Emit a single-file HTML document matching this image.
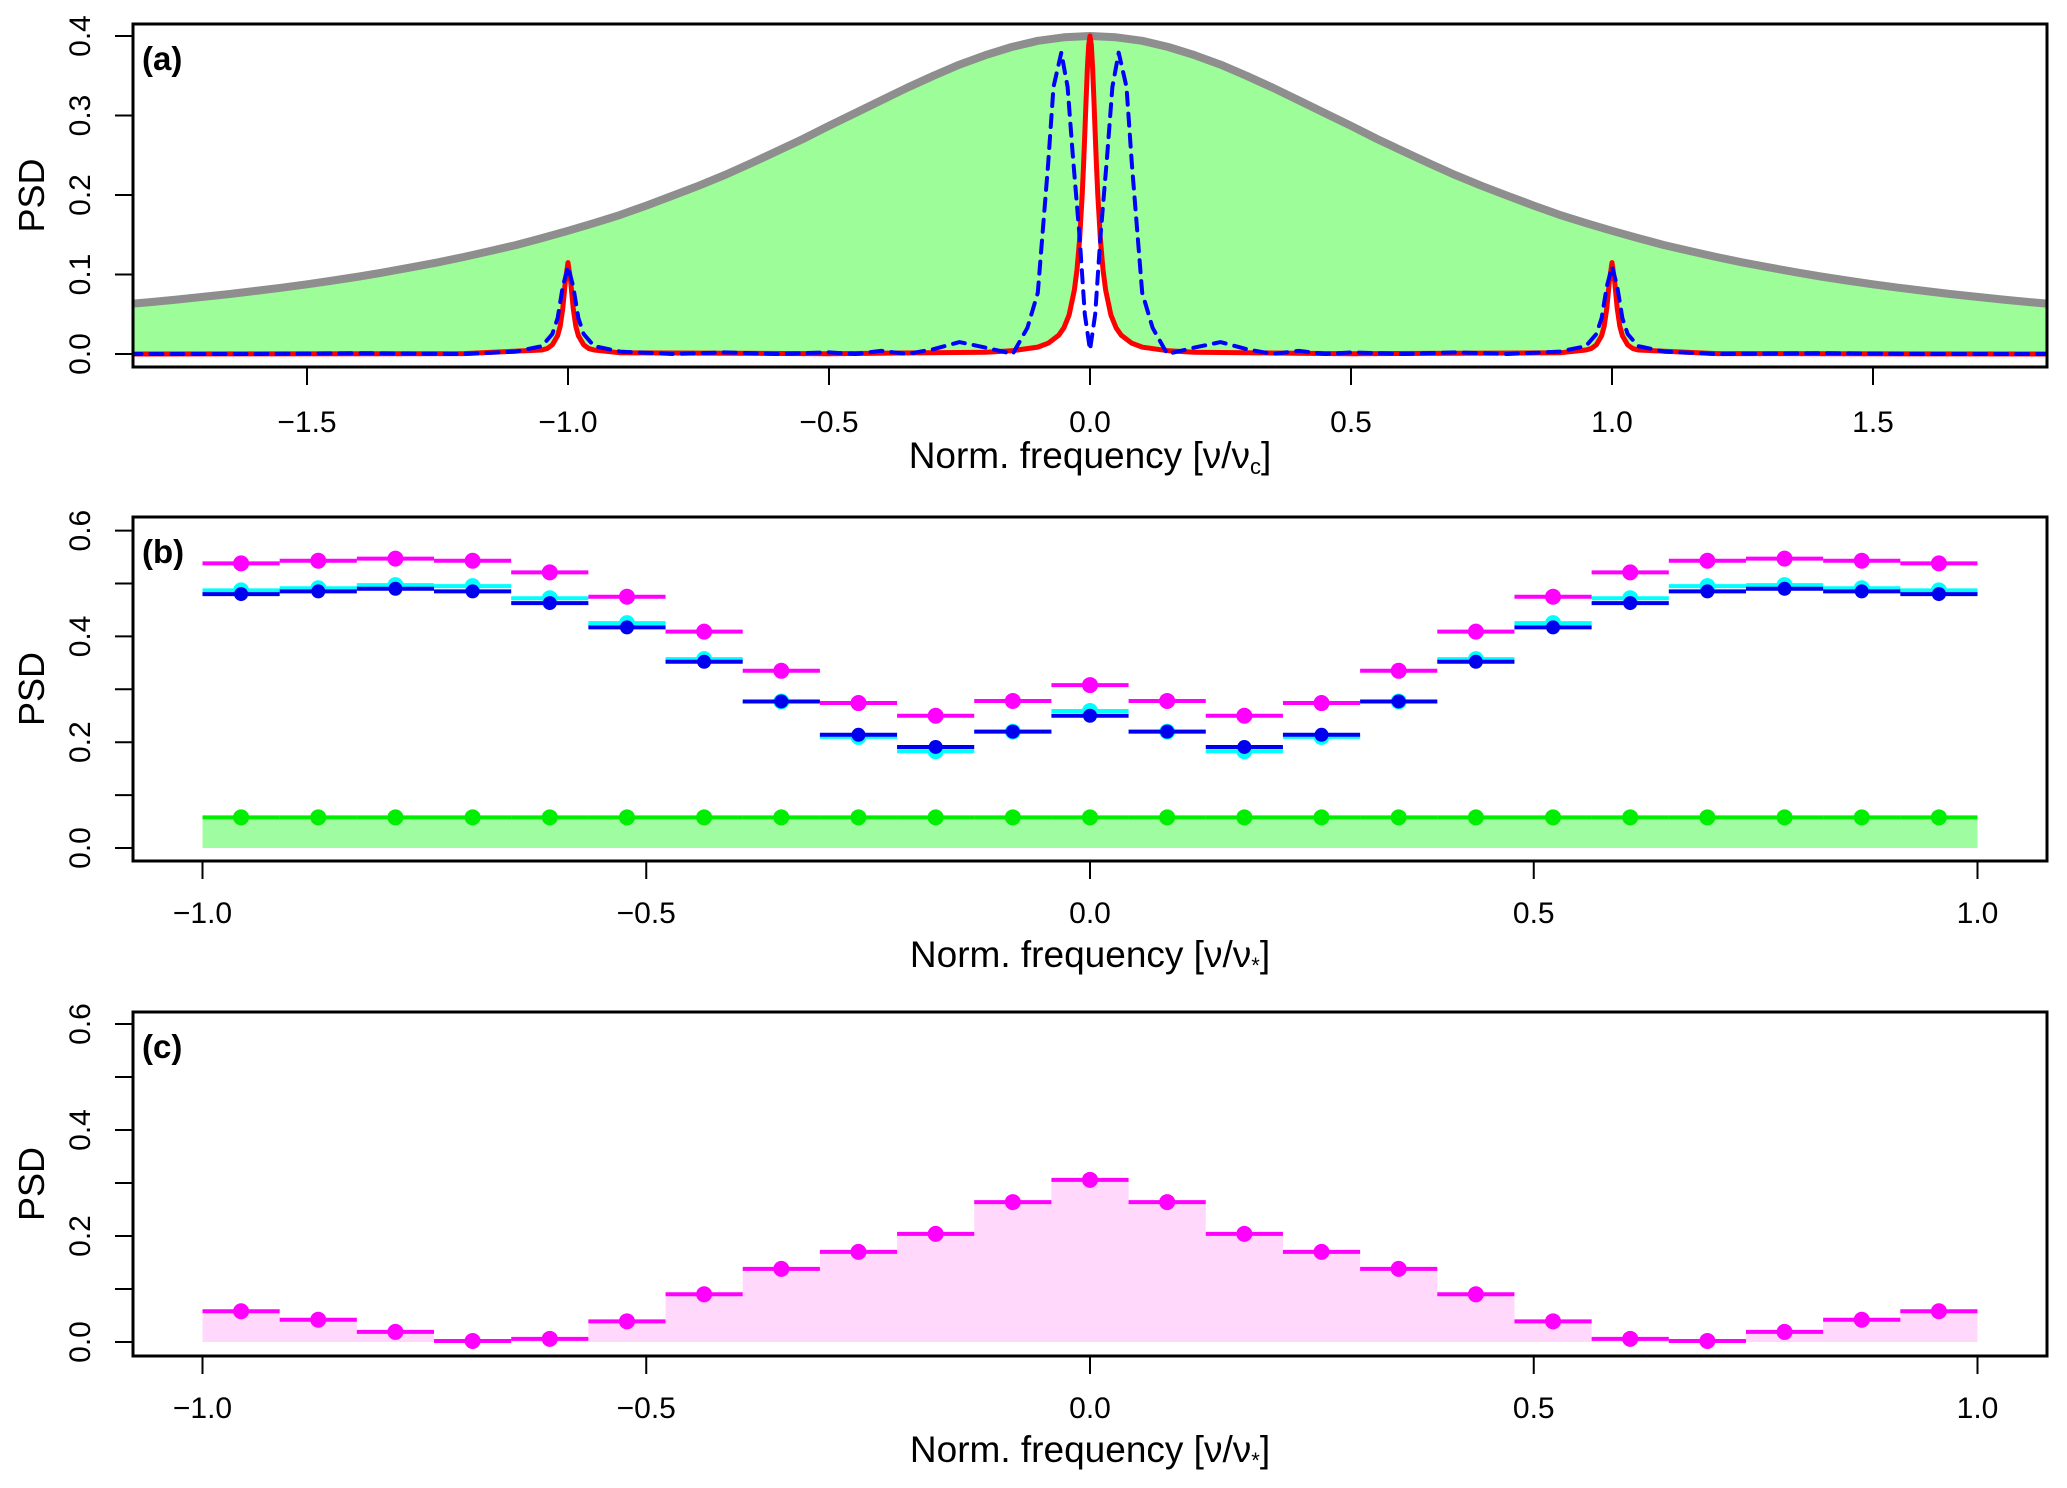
<!DOCTYPE html>
<html><head><meta charset="utf-8"><style>
html,body{margin:0;padding:0;background:#fff;}
svg{display:block;font-family:"Liberation Sans",sans-serif;}
</style></head><body>
<svg id="chart" width="2067" height="1488" viewBox="0 0 2067 1488" xmlns="http://www.w3.org/2000/svg"></svg>
<script>
// ---------- Panel (a) data ----------
const greyX = [-1.84,-1.8,-1.75,-1.7,-1.65,-1.6,-1.55,-1.5,-1.45,-1.4,-1.35,-1.3,-1.25,-1.2,-1.15,-1.1,-1.05,-1.0,-0.95,-0.9,-0.85,-0.8,-0.75,-0.7,-0.65,-0.6,-0.55,-0.5,-0.45,-0.4,-0.35,-0.3,-0.25,-0.2,-0.15,-0.1,-0.05,0,0.05,0.1,0.15,0.2,0.25,0.3,0.35,0.4,0.45,0.5,0.55,0.6,0.65,0.7,0.75,0.8,0.85,0.9,0.95,1.0,1.05,1.1,1.15,1.2,1.25,1.3,1.35,1.4,1.45,1.5,1.55,1.6,1.65,1.7,1.75,1.8,1.84];
const greyY = [0.063,0.0653,0.0684,0.0718,0.0754,0.0792,0.0833,0.0877,0.0925,0.0975,0.103,0.109,0.1152,0.122,0.1294,0.137,0.1458,0.155,0.1647,0.175,0.1867,0.199,0.2116,0.225,0.2398,0.255,0.2705,0.287,0.303,0.319,0.335,0.350,0.364,0.376,0.3862,0.394,0.3984,0.400,0.3984,0.394,0.3862,0.376,0.364,0.350,0.335,0.319,0.303,0.287,0.2705,0.255,0.2398,0.225,0.2116,0.199,0.1867,0.175,0.1647,0.155,0.1458,0.137,0.1294,0.122,0.1152,0.109,0.103,0.0975,0.0925,0.0877,0.0833,0.0792,0.0754,0.0718,0.0684,0.0653,0.063];
const redX = [-1.84,-1.2,-1.05,-1.04,-1.03,-1.02,-1.015,-1.01,-1.005,-1.0,-0.995,-0.99,-0.985,-0.98,-0.97,-0.96,-0.95,-0.9,-0.5,-0.2,-0.15,-0.1,-0.08,-0.06,-0.05,-0.04,-0.03,-0.025,-0.02,-0.015,-0.0125,-0.01,-0.0075,-0.005,-0.0025,0,0.0025,0.005,0.0075,0.01,0.0125,0.015,0.02,0.025,0.03,0.04,0.05,0.06,0.08,0.1,0.15,0.2,0.5,0.9,0.95,0.96,0.97,0.98,0.985,0.99,0.995,1.0,1.005,1.01,1.015,1.02,1.03,1.04,1.05,1.2,1.84];
const redY = [0,0.0005,0.005,0.0068,0.0115,0.023,0.035,0.0575,0.092,0.115,0.092,0.0575,0.035,0.023,0.0115,0.0068,0.005,0.0015,0.0004,0.0022,0.004,0.0087,0.0136,0.0235,0.033,0.049,0.08,0.106,0.144,0.2,0.236,0.277,0.32,0.36,0.389,0.4,0.389,0.36,0.32,0.277,0.236,0.2,0.144,0.106,0.08,0.049,0.033,0.0235,0.0136,0.0087,0.004,0.0022,0.0004,0.0015,0.005,0.0068,0.0115,0.023,0.035,0.0575,0.092,0.115,0.092,0.0575,0.035,0.023,0.0115,0.0068,0.005,0.0005,0];
const blueX = [-1.84,-1.6,-1.4,-1.2,-1.1,-1.05,-1.03,-1.02,-1.01,-1.0,-0.99,-0.98,-0.97,-0.95,-0.9,-0.8,-0.7,-0.6,-0.5,-0.45,-0.4,-0.35,-0.3,-0.25,-0.2,-0.148,-0.12,-0.1,-0.08,-0.07,-0.055,-0.043,-0.033,-0.02,-0.01,0,0.01,0.02,0.033,0.043,0.055,0.07,0.08,0.1,0.12,0.148,0.2,0.25,0.3,0.35,0.4,0.45,0.5,0.6,0.7,0.8,0.9,0.95,0.97,0.98,0.99,1.0,1.01,1.02,1.03,1.05,1.1,1.2,1.4,1.6,1.84];
const blueY = [0,0,0.001,0,0.003,0.01,0.025,0.045,0.085,0.11,0.085,0.045,0.025,0.01,0.003,0,0.002,0,0.002,0,0.004,0,0.006,0.015,0.008,0,0.033,0.077,0.24,0.336,0.379,0.336,0.25,0.147,0.05,0.005,0.05,0.147,0.25,0.336,0.379,0.336,0.24,0.077,0.033,0,0.008,0.015,0.006,0,0.004,0,0.002,0,0.002,0,0.003,0.01,0.025,0.045,0.085,0.11,0.085,0.045,0.025,0.01,0.003,0,0.001,0,0];
const aTicksX = [-1.5,-1.0,-0.5,0.0,0.5,1.0,1.5];
const aTickLabelsX = ["\u22121.5","\u22121.0","\u22120.5","0.0","0.5","1.0","1.5"];
const aTicksY = [0,0.1,0.2,0.3,0.4];
const aTickLabelsY = ["0.0","0.1","0.2","0.3","0.4"];

// ---------- Panel (b) data ----------
const bMagenta = [0.538,0.543,0.547,0.543,0.521,0.475,0.409,0.335,0.274,0.25,0.278,0.308,0.278,0.25,0.274,0.335,0.409,0.475,0.521,0.543,0.547,0.543,0.538];
const bCyan = [0.487,0.491,0.497,0.495,0.472,0.425,0.357,0.277,0.21,0.183,0.22,0.259,0.22,0.183,0.21,0.277,0.357,0.425,0.472,0.495,0.497,0.491,0.487];
const bBlue = [0.480,0.485,0.49,0.485,0.463,0.417,0.352,0.277,0.214,0.191,0.220,0.250,0.220,0.191,0.214,0.277,0.352,0.417,0.463,0.485,0.49,0.485,0.480];
const bGreen = [0.058,0.058,0.058,0.058,0.058,0.058,0.058,0.058,0.058,0.058,0.058,0.058,0.058,0.058,0.058,0.058,0.058,0.058,0.058,0.058,0.058,0.058,0.058];
// ---------- Panel (c) data ----------
const cMagenta = [0.058,0.042,0.019,0.002,0.006,0.039,0.09,0.138,0.170,0.204,0.264,0.306,0.264,0.204,0.170,0.138,0.09,0.039,0.006,0.002,0.019,0.042,0.058];
const bcTicksX = [-1.0,-0.5,0.0,0.5,1.0];
const bcTickLabelsX = ["\u22121.0","\u22120.5","0.0","0.5","1.0"];
const bcTicksY = [0,0.1,0.2,0.3,0.4,0.5,0.6];
const bcTickLabelsY = ["0.0","","0.2","","0.4","","0.6"];

const NS = "http://www.w3.org/2000/svg";
const svg = document.getElementById('chart');
function mk(tag, attrs, parent){const e=document.createElementNS(NS,tag);for(const k in attrs)e.setAttribute(k,attrs[k]);(parent||svg).appendChild(e);return e;}

function axes(g, P, xt, xl, yt, yl, label, sub){
  const box = mk('rect',{x:P.left,y:P.top,width:P.right-P.left,height:P.bottom-P.top,fill:'none',stroke:'#000','stroke-width':3},g);
  
  
  const xa = mk('g',{},g);
  
  
  xt.forEach((v,i)=>{
    const x=P.sx(v);
    mk('line',{x1:x,x2:x,y1:P.bottom,y2:P.bottom+18,stroke:'#000','stroke-width':2},xa);
    const t=mk('text',{x:x,y:P.tickLabelY,'text-anchor':'middle','font-size':30},xa);
    t.textContent=xl[i];
    
    
  });
  const xt2=mk('text',{x:1090,y:P.titleY,'text-anchor':'middle','font-size':37},g);
  
  
  xt2.innerHTML='Norm. frequency [\u03BD/\u03BD<tspan font-size="22" dy="6">'+sub+'</tspan><tspan dy="-6">]</tspan>';
  const ya = mk('g',{},g);
  
  
  yt.forEach((v,i)=>{
    const y=P.sy(v);
    mk('line',{x1:115,x2:P.left,y1:y,y2:y,stroke:'#000','stroke-width':2},ya);
    if(yl[i]){
      const t=mk('text',{x:0,y:0,'text-anchor':'middle','font-size':30,transform:'translate(90,'+y+') rotate(-90)'},ya);
      t.textContent=yl[i];
      
      
    }
  });
  const yt2=mk('text',{x:0,y:0,'text-anchor':'middle','font-size':36,transform:'translate(44,'+((P.top+P.bottom)/2)+') rotate(-90)'},g);
  yt2.textContent='PSD';
  
  
  const pl=mk('text',{x:142,y:P.top+46,'font-size':33,'font-weight':'bold'},g);
  pl.textContent=label;
  
  
}
function pts(xs,ys,P){return xs.map((x,i)=>P.sx(x).toFixed(1)+','+P.sy(ys[i]).toFixed(1)).join(' ');}

// ---------- Panel A ----------
const PA={left:133,right:2047,top:24,bottom:367,tickLabelY:432,titleY:468,
  sx:v=>1090+v*522, sy:v=>354-v*795};
const gA=mk('g',{});


mk('clipPath',{id:'clipA'},gA).appendChild(document.createElementNS(NS,'rect'));
const cr=gA.querySelector('#clipA rect');cr.setAttribute('x',PA.left);cr.setAttribute('y',PA.top);cr.setAttribute('width',PA.right-PA.left);cr.setAttribute('height',PA.bottom-PA.top);
const dA=mk('g',{'clip-path':'url(#clipA)'},gA);
const fillPts = pts(greyX,greyY,PA)+' '+redX.map((x,i)=>PA.sx(x).toFixed(1)+','+PA.sy(redY[i]).toFixed(1)).reverse().join(' ');
const fa=mk('polygon',{points:fillPts,fill:'#9dfd98'},dA);


const gl=mk('polyline',{points:pts(greyX,greyY,PA),fill:'none',stroke:'#8e8e8e','stroke-width':8,'stroke-linejoin':'round'},dA);


const rl=mk('polyline',{points:pts(redX,redY,PA),fill:'none',stroke:'#ff0000','stroke-width':5,'stroke-linejoin':'round'},dA);


const bl=mk('polyline',{points:pts(blueX,blueY,PA),fill:'none',stroke:'#0000ff','stroke-width':4,'stroke-dasharray':'12,9','stroke-linejoin':'round','stroke-linecap':'round'},dA);


axes(gA,PA,aTicksX,aTickLabelsX,aTicksY,aTickLabelsY,'(a)','c');

// ---------- Step panels ----------
function stepPanel(name,P,series,label){
  const g=mk('g',{});
  
  
  const n=23, w=2/n;
  series.forEach(s=>{
    const sg=mk('g',{},g);
    
    
    if(s.fill){
      let d='M'+P.sx(-1)+','+P.sy(0);
      s.data.forEach((v,i)=>{d+=' L'+P.sx(-1+i*w)+','+P.sy(v)+' L'+P.sx(-1+(i+1)*w)+','+P.sy(v);});
      d+=' L'+P.sx(1)+','+P.sy(0)+' Z';
      const f=mk('path',{d:d,fill:s.fill},sg);
      
      
    }
  });
  series.forEach(s=>{
    const sg=mk('g',{},g);
    s.data.forEach((v,i)=>{
      const x0=P.sx(-1+i*w),x1=P.sx(-1+(i+1)*w),y=P.sy(v);
      const l=mk('line',{x1:x0,x2:x1,y1:y,y2:y,stroke:s.color,'stroke-width':4},sg);
      
      
    });
    s.data.forEach((v,i)=>{
      const c=mk('circle',{cx:P.sx(-1+(i+0.5)*w),cy:P.sy(v),r:s.r,fill:s.color},sg);
      
      
    });
  });
  axes(g,P,bcTicksX,bcTickLabelsX,bcTicksY,bcTickLabelsY,label,'*');
}
const PB={left:133,right:2047,top:517,bottom:861,tickLabelY:923,titleY:967,
  sx:v=>1090+v*887.5, sy:v=>848-v*529};
stepPanel('panel-b',PB,[
  {name:'green-series',data:bGreen,color:'#00ee00',fill:'#a0fca0',r:8},
  {name:'cyan-series',data:bCyan,color:'#00ffff',r:8},
  {name:'blue-series',data:bBlue,color:'#0000ee',r:7},
  {name:'magenta-series',data:bMagenta,color:'#ff00ff',r:8}
],'(b)');
const PC={left:133,right:2047,top:1012,bottom:1356,tickLabelY:1418,titleY:1462,
  sx:v=>1090+v*887.5, sy:v=>1342-v*530};
stepPanel('panel-c',PC,[
  {name:'magenta-series',data:cMagenta,color:'#ff00ff',fill:'#ffd8fb',r:8}
],'(c)');
</script>
</body></html>
